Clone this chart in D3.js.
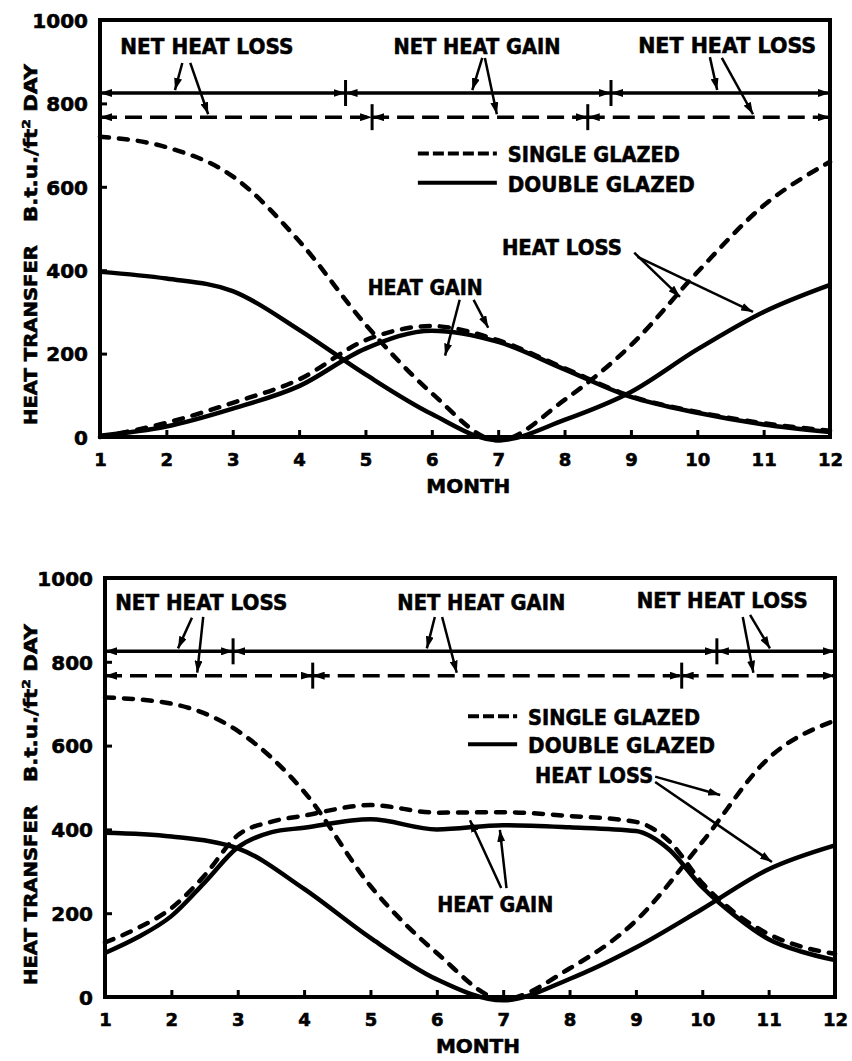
<!DOCTYPE html>
<html lang="en">
<head>
<meta charset="UTF-8">
<title>Heat transfer, single vs double glazed</title>
<script src="https://d3js.org/d3.v7.min.js"></script>
<style>
  body { margin:0; background:#fff; }
  text { font-family:'DejaVu Sans', sans-serif; font-weight:bold; fill:#000; stroke:#000; stroke-width:0.6px; }
  .frame { fill:none; stroke:#000; stroke-width:4px; }
  .curve { fill:none; stroke:#000; stroke-width:4.5px; }
  .curve.dash { stroke-dasharray:9,10; stroke-linecap:round; }
  .net { stroke:#000; stroke-width:3.5px; }
  .net.dash { stroke-dasharray:17,8; }
  .brk { stroke:#000; stroke-width:3px; }
  .leader { stroke:#000; stroke-width:2.5px; }
  .legline { stroke:#000; stroke-width:4px; }
  .legline.dash { stroke-dasharray:11,4; }
</style>
</head>
<body>
<script>

// ---- data (Btu/ft2 day) ----
var months = [1,2,3,4,5,6,7,8,9,10,11,12];
var valueTicks = [0,200,400,600,800,1000];

// upper panel
var topSingleLoss = [720, 695, 625, 470, 270, 105, -8, 89, 220, 395, 555, 660];
var topDoubleLoss = [396, 380, 350, 257, 150, 55, -8, 41, 108, 210, 300, 365];
var topSingleGain = [0, 34, 82, 138, 232, 266, 232, 165, 98, 60, 33, 15];
var topDoubleGain = [3, 25, 68, 122, 212, 255, 228, 162, 96, 58, 30, 12];
var topSolidBreaks = [1, 4.7, 8.7, 12];
var topDashedBreaks = [1, 5.1, 8.35, 12];

// lower panel
var botSingleLoss = [715, 700, 635, 490, 265, 105, -5, 68, 182, 370, 570, 660];
var botDoubleLoss = [392, 383, 355, 258, 141, 42, -8, 43, 118, 210, 305, 362];
// gain curves of the lower panel change fast, read at half months
var botGainMonths = [1, 1.5, 2, 2.5, 3, 3.5, 4, 5, 6, 7, 8, 9, 9.5, 10, 10.5, 11, 11.5, 12];
var botSingleGain = [130, 165, 212, 290, 386, 418, 433, 458, 440, 441, 432, 418, 372, 272, 200, 150, 120, 103];
var botDoubleGain = [105, 143, 193, 273, 357, 393, 404, 424, 400, 410, 405, 396, 352, 262, 193, 138, 108, 88];
var botSolidBreaks = [1, 2.93, 10.22, 12];
var botDashedBreaks = [1, 4.13, 9.69, 12];

var solidLevel = 825, dashedLevel = 767;

var W = 852, H = 1061;
var svg = d3.select("body").append("svg").attr("width", W).attr("height", H);

var defs = svg.append("defs");
defs.append("marker").attr("id","arr")
    .attr("markerUnits","userSpaceOnUse")
    .attr("viewBox","0 0 12 8").attr("refX",12).attr("refY",4)
    .attr("markerWidth",12).attr("markerHeight",8)
    .attr("orient","auto-start-reverse")
  .append("path").attr("d","M0,0 L12,4 L0,8 Z").attr("fill","#000");

function drawPanel(p) {
  var g = svg.append("g").attr("transform","translate(" + p.left + "," + p.top + ")");
  var x = d3.scaleLinear().domain([1,12]).range([0,p.width]);
  var y = d3.scaleLinear().domain([0,1000]).range([p.height,0]);

  // axes
  var xa = g.append("g").attr("transform","translate(0," + p.height + ")")
    .call(d3.axisBottom(x).tickValues(months).tickSizeInner(-7).tickSizeOuter(0).tickPadding(16).tickFormat(d3.format("d")));
  var ya = g.append("g")
    .call(d3.axisLeft(y).tickValues(valueTicks).tickSizeInner(-7).tickSizeOuter(0).tickPadding(12).tickFormat(d3.format("d")));
  [xa, ya].forEach(function(a){
    a.attr("font-family",null).attr("font-size",null);
    a.select(".domain").remove();
    a.selectAll(".tick line").attr("stroke","#000").attr("stroke-width",3);
  });
  xa.selectAll("text").style("font-size","18px");
  ya.selectAll("text").style("font-size","20px").attr("dy","0.36em");

  g.append("rect").attr("class","frame").attr("width",p.width).attr("height",p.height);

  g.append("text").attr("x", x(p.monthPos)).attr("y", p.height + 56)
    .attr("text-anchor","middle").style("font-size","20px").text("MONTH");

  // curves: [month array, values, dashed?]
  p.curves.forEach(function(s){
    var ms = s[0];
    var line = d3.line().x(function(d,i){ return x(ms[i]); }).y(function(d){ return y(d); })
      .curve(d3.curveMonotoneX);
    g.append("path").attr("class","curve" + (s[2] ? " dash" : "")).attr("d", line(s[1]));
  });

  // net heat loss / gain bars
  [[p.solidBreaks, solidLevel, false],[p.dashedBreaks, dashedLevel, true]].forEach(function(s){
    var br = s[0], lv = s[1];
    for (var i = 0; i < br.length - 1; i++) {
      g.append("line").attr("class","net" + (s[2] ? " dash" : ""))
        .attr("x1", x(br[i])).attr("x2", x(br[i+1])).attr("y1", y(lv)).attr("y2", y(lv))
        .attr("marker-start","url(#arr)").attr("marker-end","url(#arr)");
    }
    br.slice(1,-1).forEach(function(b){
      g.append("line").attr("class","brk").attr("x1",x(b)).attr("x2",x(b))
        .attr("y1",y(lv)-13).attr("y2",y(lv)+13);
    });
  });

  // labels and leaders
  p.labels.forEach(function(l){
    g.append("text").attr("x", x(l.m)).attr("y", y(l.v)).attr("text-anchor","middle")
      .attr("textLength", l.len).attr("lengthAdjust","spacingAndGlyphs")
      .style("font-size","22px").text(l.text);
  });
  p.leaders.forEach(function(a){
    g.append("line").attr("class","leader")
      .attr("x1",x(a[0])).attr("y1",y(a[1])).attr("x2",x(a[2])).attr("y2",y(a[3]))
      .attr("marker-end","url(#arr)");
  });

  // legend
  var lg = p.legend;
  [["SINGLE GLAZED", lg.v1, true, 172],["DOUBLE GLAZED", lg.v2, false, 187]].forEach(function(r){
    g.append("line").attr("class","legline" + (r[2] ? " dash" : ""))
      .attr("x1",x(lg.m0)).attr("x2",x(lg.m1)).attr("y1",y(r[1])).attr("y2",y(r[1]));
    g.append("text").attr("x", x(lg.m1) + 11).attr("y", y(r[1]) + 9)
      .attr("textLength", r[3]).attr("lengthAdjust","spacingAndGlyphs")
      .style("font-size","22px").text(r[0]);
  });

  // y title
  var yt = svg.append("g").attr("transform","translate(" + p.ytX + "," + p.ytY + ") rotate(-90)");
  yt.append("text").attr("x",0).attr("y",0).attr("textLength",180).attr("lengthAdjust","spacingAndGlyphs")
    .style("font-size","17px").text("HEAT TRANSFER");
  var t2 = yt.append("text").attr("x",203).attr("y",0).attr("textLength",158).attr("lengthAdjust","spacingAndGlyphs")
    .style("font-size","17px");
  t2.append("tspan").text("B.t.u./ft");
  t2.append("tspan").attr("dy",-7).style("font-size","11px").text("2");
  t2.append("tspan").attr("dy",7).text(" DAY");
}

drawPanel({
  left:100, top:20, width:730, height:417,
  curves: [
    [months, topSingleLoss, true], [months, topSingleGain, true],
    [months, topDoubleLoss, false], [months, topDoubleGain, false]
  ],
  solidBreaks: topSolidBreaks, dashedBreaks: topDashedBreaks,
  monthPos: 6.55, ytX: 37, ytY: 425,
  legend: {m0:5.79, m1:6.98, v1:680, v2:610},
  labels: [
    {text:"NET HEAT LOSS", m:2.61, v:918, len:173},
    {text:"NET HEAT GAIN", m:6.68, v:918, len:167},
    {text:"NET HEAT LOSS", m:10.45, v:922, len:178},
    {text:"HEAT LOSS", m:7.96, v:436, len:120},
    {text:"HEAT GAIN", m:5.90, v:341, len:115}
  ],
  leaders: [
    [2.24,897, 2.13,832], [2.36,897, 2.63,774],
    [6.76,909, 6.61,832], [6.80,909, 6.98,774],
    [10.19,911, 10.30,832], [10.37,909, 10.84,774],
    [9.05,442, 9.74,336], [9.10,432, 10.84,300],
    [6.42,329, 6.20,195], [6.63,329, 6.85,262]
  ]
});

drawPanel({
  left:105, top:578, width:730, height:419,
  curves: [
    [months, botSingleLoss, true], [botGainMonths, botSingleGain, true],
    [months, botDoubleLoss, false], [botGainMonths, botDoubleGain, false]
  ],
  solidBreaks: botSolidBreaks, dashedBreaks: botDashedBreaks,
  monthPos: 6.62, ytX: 37, ytY: 985,
  legend: {m0:6.47, m1:7.21, v1:670, v2:603},
  labels: [
    {text:"NET HEAT LOSS", m:2.45, v:924, len:172},
    {text:"NET HEAT GAIN", m:6.67, v:924, len:168},
    {text:"NET HEAT LOSS", m:10.30, v:928, len:171},
    {text:"HEAT LOSS", m:8.37, v:511, len:118},
    {text:"HEAT GAIN", m:6.88, v:203, len:116}
  ],
  leaders: [
    [2.31,905, 2.10,832], [2.48,907, 2.39,774],
    [5.97,907, 5.85,832], [6.08,907, 6.30,774],
    [10.61,907, 10.77,774], [10.72,912, 11.02,832],
    [9.29,526, 10.27,482], [9.29,513, 11.05,322],
    [6.97,260, 6.50,422], [7.05,260, 6.95,399]
  ]
});

</script>
</body>
</html>
